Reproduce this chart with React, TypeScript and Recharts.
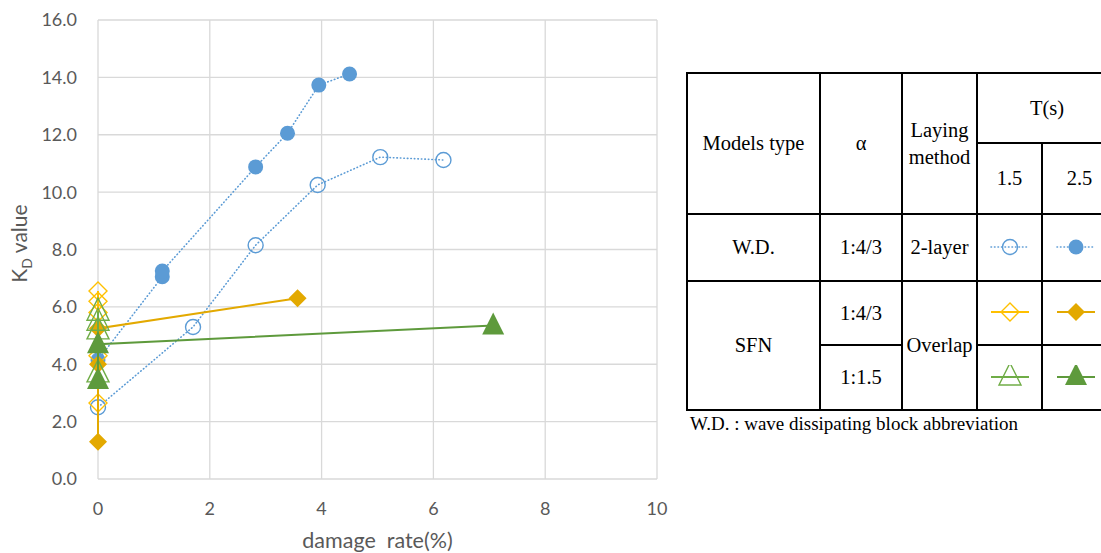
import React from 'react';
import { ScatterChart, Scatter, XAxis, YAxis, CartesianGrid } from 'recharts';

const X_TICKS = [0, 2, 4, 6, 8, 10];
const Y_TICKS = [0, 2, 4, 6, 8, 10, 12, 14, 16];

// W.D. 1:4/3, T = 1.5 s
const wdShortX = [0, 1.7, 2.82, 3.93, 5.05, 6.18];
const wdShortY = [2.5, 5.3, 8.15, 10.25, 11.22, 11.12];
// W.D. 1:4/3, T = 2.5 s
const wdLongX = [0, 1.15, 1.15, 2.82, 3.39, 3.95, 4.5];
const wdLongY = [4.15, 7.05, 7.25, 10.88, 12.05, 13.73, 14.12];
// SFN 1:4/3, T = 1.5 s
const sfnAShortX = [0, 0, 0, 0, 0];
const sfnAShortY = [2.65, 4.3, 5.8, 6.2, 6.55];
// SFN 1:4/3, T = 2.5 s
const sfnALongX = [0, 0, 0, 3.57];
const sfnALongY = [1.3, 4.0, 5.25, 6.3];
// SFN 1:1.5, T = 1.5 s
const sfnBShortX = [0, 0, 0, 0];
const sfnBShortY = [3.7, 5.2, 5.5, 5.85];
// SFN 1:1.5, T = 2.5 s
const sfnBLongX = [0, 0, 7.07];
const sfnBLongY = [3.45, 4.7, 5.35];

const zip = (xs: number[], ys: number[]) => xs.map((x, i) => ({ x, y: ys[i] }));

const BLUE = '#5B9BD5';
const GOLD_LIGHT = '#FFC000';
const GOLD = '#E3A900';
const GREEN_LIGHT = '#70AD47';
const GREEN = '#5E9A3C';
const AXIS_TEXT = '#595959';
const FONT = 'Lato, "Noto Sans", sans-serif';

type Pt = { cx?: number; cy?: number };

const circleShape = (color: string, filled: boolean) => (p: Pt) => (
  <circle cx={p.cx} cy={p.cy} r={7.5} fill={filled ? color : 'none'} stroke={color} strokeWidth={filled ? 0 : 1.4} />
);
const diamondShape = (color: string, filled: boolean) => (p: Pt) => {
  const x = p.cx ?? 0;
  const y = p.cy ?? 0;
  const s = 9;
  return (
    <path
      d={`M${x},${y - s}L${x + s},${y}L${x},${y + s}L${x - s},${y}Z`}
      fill={filled ? color : 'none'}
      stroke={color}
      strokeWidth={filled ? 0 : 1.4}
    />
  );
};
const triangleShape = (color: string, filled: boolean) => (p: Pt) => {
  const x = p.cx ?? 0;
  const y = p.cy ?? 0;
  return (
    <path
      d={`M${x},${y - 13}L${x + 11},${y + 9}L${x - 11},${y + 9}Z`}
      fill={filled ? color : 'none'}
      stroke={color}
      strokeWidth={filled ? 0 : 1.4}
    />
  );
};

const dotted = (c: string) => ({ stroke: c, strokeWidth: 1.6, strokeDasharray: '0.5 3', strokeLinecap: 'round' as const });
const solid = (c: string) => ({ stroke: c, strokeWidth: 2 });

function Icon({ kind, color, filled, dash }: { kind: 'circle' | 'diamond' | 'triangle'; color: string; filled: boolean; dash?: boolean }) {
  const cx = 27;
  const cy = 12;
  let mark: React.ReactNode = null;
  if (kind === 'circle') mark = circleShape(color, filled)({ cx, cy });
  if (kind === 'diamond') mark = diamondShape(color, filled)({ cx, cy });
  if (kind === 'triangle') mark = triangleShape(color, filled)({ cx, cy: cy - 1 });
  return (
    <svg width={54} height={26} style={{ display: 'block', margin: '0 auto' }}>
      <line x1={8} x2={46} y1={cy} y2={cy} {...(dash ? dotted(color) : solid(color))} />
      {mark}
    </svg>
  );
}

const cell: React.CSSProperties = { border: '2px solid #000', padding: 0, textAlign: 'center', verticalAlign: 'middle' };

function InfoTable() {
  return (
    <div style={{ position: 'absolute', left: 686, top: 72, fontFamily: '"Liberation Serif", "Times New Roman", serif', fontSize: 20.5, color: '#000' }}>
      <table style={{ borderCollapse: 'collapse', tableLayout: 'fixed', width: 430 }}>
        <colgroup>
          <col style={{ width: 133 }} />
          <col style={{ width: 82 }} />
          <col style={{ width: 75 }} />
          <col style={{ width: 65 }} />
          <col style={{ width: 75 }} />
        </colgroup>
        <tbody>
          <tr style={{ height: 70 }}>
            <td style={cell} rowSpan={2}>Models type</td>
            <td style={cell} rowSpan={2}>α</td>
            <td style={{ ...cell, lineHeight: '27px' }} rowSpan={2}>Laying<br />method</td>
            <td style={cell} colSpan={2}>T(s)</td>
          </tr>
          <tr style={{ height: 71 }}>
            <td style={cell}>1.5</td>
            <td style={cell}>2.5</td>
          </tr>
          <tr style={{ height: 67 }}>
            <td style={cell}>W.D.</td>
            <td style={cell}>1:4/3</td>
            <td style={cell}>2-layer</td>
            <td style={cell}><Icon kind="circle" color={BLUE} filled={false} dash /></td>
            <td style={cell}><div style={{ marginLeft: -8 }}><Icon kind="circle" color={BLUE} filled dash /></div></td>
          </tr>
          <tr style={{ height: 64 }}>
            <td style={cell} rowSpan={2}>SFN</td>
            <td style={cell}>1:4/3</td>
            <td style={cell} rowSpan={2}>Overlap</td>
            <td style={cell}><Icon kind="diamond" color={GOLD_LIGHT} filled={false} /></td>
            <td style={cell}><div style={{ marginLeft: -8 }}><Icon kind="diamond" color={GOLD} filled /></div></td>
          </tr>
          <tr style={{ height: 65 }}>
            <td style={cell}>1:1.5</td>
            <td style={cell}><Icon kind="triangle" color={GREEN_LIGHT} filled={false} /></td>
            <td style={cell}><div style={{ marginLeft: -8 }}><Icon kind="triangle" color={GREEN} filled /></div></td>
          </tr>
        </tbody>
      </table>
      <div style={{ fontSize: 19, marginTop: 2, marginLeft: 4 }}>W.D. : wave dissipating block abbreviation</div>
    </div>
  );
}

export default function App() {
  return (
    <div style={{ position: 'absolute', left: 0, top: 0, width: 1101, height: 553, overflow: 'hidden', background: '#fff' }}>
      <ScatterChart width={680} height={553} margin={{ top: 20, right: 23, bottom: 44, left: 38 }}>
        <CartesianGrid stroke="#D9D9D9" strokeWidth={1.3} />
        <XAxis
          type="number"
          dataKey="x"
          domain={[0, 10]}
          ticks={X_TICKS}
          axisLine={false}
          tickLine={false}
          tickMargin={17}
          height={30}
          tick={{ fill: AXIS_TEXT, fontSize: 18, fontFamily: FONT }}
          label={(props: any) => {
            const vb = props.viewBox || {};
            return (
              <text
                x={vb.x + vb.width / 2}
                y={548}
                textAnchor="middle"
                fill={AXIS_TEXT}
                fontSize={21.5}
                fontFamily={FONT}
                style={{ whiteSpace: 'pre' }}
              >
                damage  rate(%)
              </text>
            );
          }}
        />
        <YAxis
          type="number"
          dataKey="y"
          domain={[0, 16]}
          ticks={Y_TICKS}
          width={60}
          axisLine={false}
          tickLine={false}
          tickMargin={15}
          tickFormatter={(v: number) => v.toFixed(1)}
          tick={{ fill: AXIS_TEXT, fontSize: 18, fontFamily: FONT }}
          label={(props: any) => {
            const vb = props.viewBox || {};
            const cx = 20;
            const cy = vb.y + vb.height / 2 - 6;
            return (
              <text
                x={cx}
                y={cy}
                dy="0.35em"
                textAnchor="middle"
                fill={AXIS_TEXT}
                fontSize={21}
                fontFamily={FONT}
                transform={`rotate(-90, ${cx}, ${cy})`}
              >
                K<tspan fontSize={14} dy="5">D</tspan><tspan dy="-5"> value</tspan>
              </text>
            );
          }}
        />
        <Scatter
          data={zip(wdShortX, wdShortY)}
          line={dotted(BLUE)}
          lineType="joint"
          shape={circleShape(BLUE, false)}
          isAnimationActive={false}
        />
        <Scatter
          data={zip(wdLongX, wdLongY)}
          line={dotted(BLUE)}
          lineType="joint"
          shape={circleShape(BLUE, true)}
          isAnimationActive={false}
        />
        <Scatter
          data={zip(sfnAShortX, sfnAShortY)}
          line={solid(GOLD_LIGHT)}
          lineType="joint"
          shape={diamondShape(GOLD_LIGHT, false)}
          isAnimationActive={false}
        />
        <Scatter
          data={zip(sfnALongX, sfnALongY)}
          line={solid(GOLD)}
          lineType="joint"
          shape={diamondShape(GOLD, true)}
          isAnimationActive={false}
        />
        <Scatter
          data={zip(sfnBShortX, sfnBShortY)}
          line={solid(GREEN_LIGHT)}
          lineType="joint"
          shape={triangleShape(GREEN_LIGHT, false)}
          isAnimationActive={false}
        />
        <Scatter
          data={zip(sfnBLongX, sfnBLongY)}
          line={solid(GREEN)}
          lineType="joint"
          shape={triangleShape(GREEN, true)}
          isAnimationActive={false}
        />
      </ScatterChart>
      <InfoTable />
    </div>
  );
}
